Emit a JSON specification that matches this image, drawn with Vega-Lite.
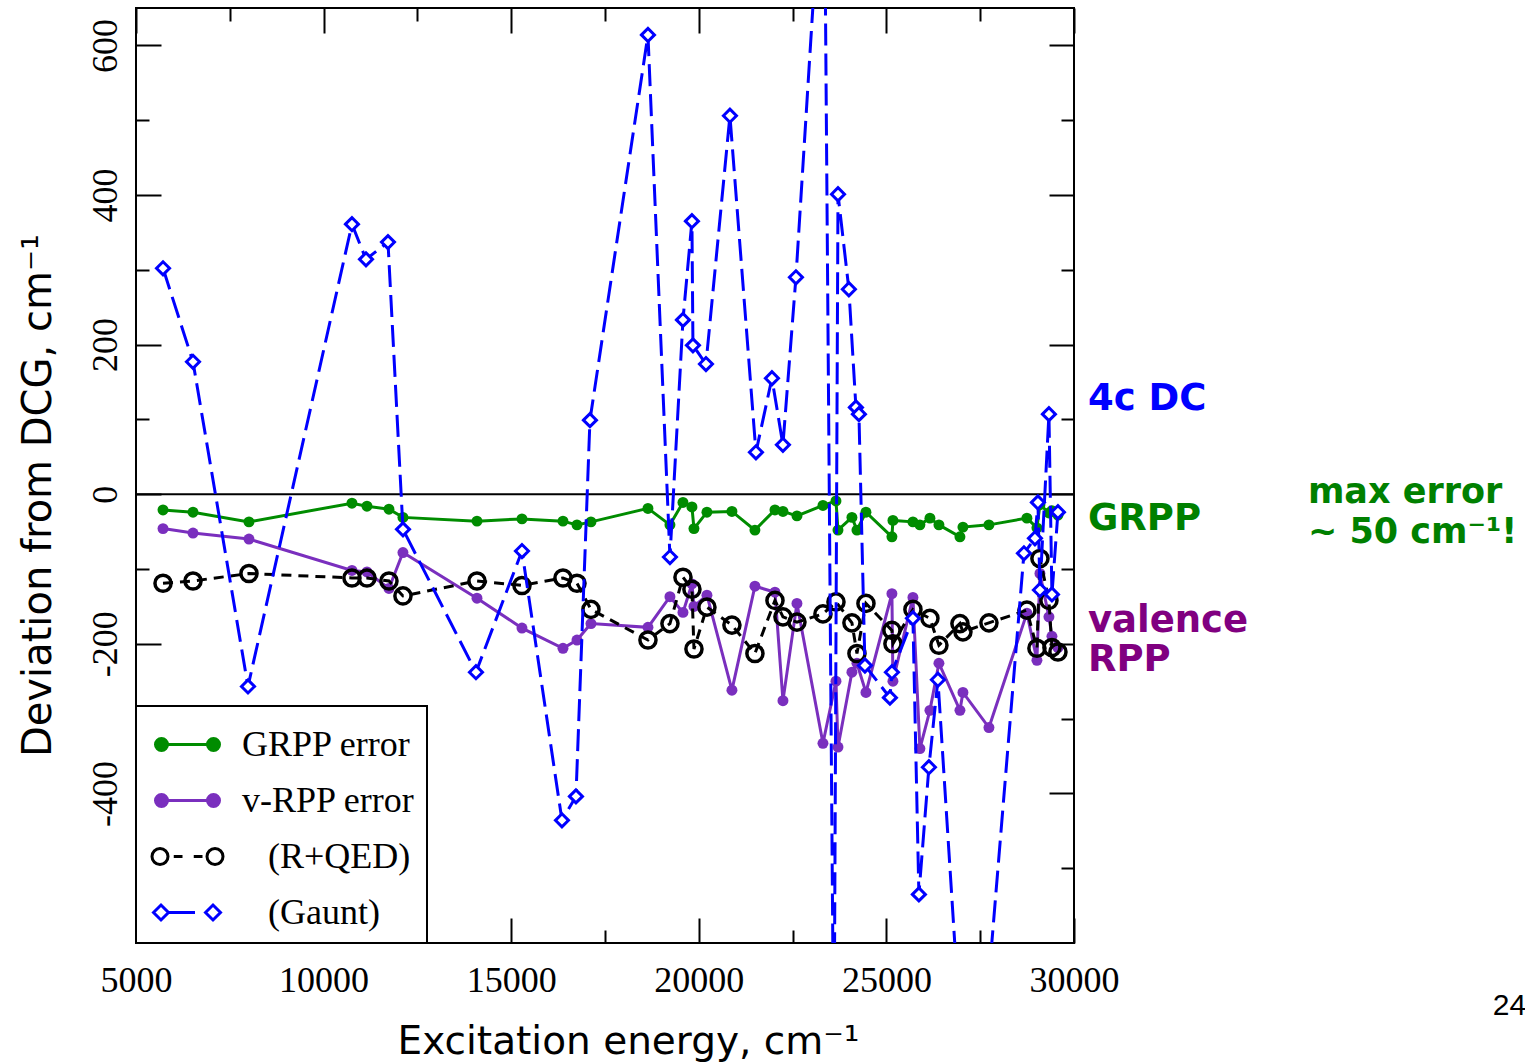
{
  "$schema": "https://vega.github.io/schema/vega-lite/v6.json",
  "width": 938,
  "height": 935,
  "autosize": "none",
  "padding": {"left": 136, "top": 8, "right": 451, "bottom": 121},
  "background": "white",
  "config": {"view": {"stroke": "black", "strokeWidth": 2}, "axis": {"grid": false, "domain": false},
    "legend": {"orient": "bottom-left", "offset": 0, "title": null, "padding": 12, "rowPadding": 11, "symbolSize": 2500, "symbolStrokeWidth": 3, "symbolOffset": 13, "labelOffset": 28,
      "labelFont": "Liberation Serif", "labelFontSize": 36, "labelColor": "black", "labelLimit": 0, "strokeColor": "black", "fillColor": "white", "cornerRadius": 0, "strokeWidth": 2}},
  "datasets": {
    "pts": [
      {"s":"GRPP error","x":5720,"y":-21},{"s":"GRPP error","x":6519,"y":-24},{"s":"GRPP error","x":8011,"y":-37},{"s":"GRPP error","x":10756,"y":-12},{"s":"GRPP error","x":11156,"y":-16},{"s":"GRPP error","x":11742,"y":-20},{"s":"GRPP error","x":12115,"y":-31},{"s":"GRPP error","x":14088,"y":-36},{"s":"GRPP error","x":15287,"y":-33},{"s":"GRPP error","x":16380,"y":-36},{"s":"GRPP error","x":16753,"y":-41},{"s":"GRPP error","x":17126,"y":-37},{"s":"GRPP error","x":18645,"y":-19},{"s":"GRPP error","x":19231,"y":-41},{"s":"GRPP error","x":19578,"y":-11},{"s":"GRPP error","x":19817,"y":-17},{"s":"GRPP error","x":19871,"y":-46},{"s":"GRPP error","x":20217,"y":-24},{"s":"GRPP error","x":20883,"y":-23},{"s":"GRPP error","x":21496,"y":-48},{"s":"GRPP error","x":22030,"y":-21},{"s":"GRPP error","x":22243,"y":-23},{"s":"GRPP error","x":22616,"y":-29},{"s":"GRPP error","x":23309,"y":-15},{"s":"GRPP error","x":23656,"y":-9},{"s":"GRPP error","x":23710,"y":-48},{"s":"GRPP error","x":24081,"y":-31},{"s":"GRPP error","x":24215,"y":-48},{"s":"GRPP error","x":24455,"y":-24},{"s":"GRPP error","x":25147,"y":-57},{"s":"GRPP error","x":25174,"y":-35},{"s":"GRPP error","x":25707,"y":-37},{"s":"GRPP error","x":25893,"y":-41},{"s":"GRPP error","x":26160,"y":-32},{"s":"GRPP error","x":26400,"y":-41},{"s":"GRPP error","x":26960,"y":-57},{"s":"GRPP error","x":27040,"y":-44},{"s":"GRPP error","x":27733,"y":-41},{"s":"GRPP error","x":28745,"y":-32},{"s":"GRPP error","x":29012,"y":-45},{"s":"GRPP error","x":29092,"y":-14},{"s":"GRPP error","x":29332,"y":-25},{"s":"GRPP error","x":29412,"y":-22},{"s":"GRPP error","x":29572,"y":-28},
      {"s":"v-RPP error","x":5720,"y":-46},{"s":"v-RPP error","x":6519,"y":-52},{"s":"v-RPP error","x":8011,"y":-60},{"s":"v-RPP error","x":10756,"y":-102},{"s":"v-RPP error","x":11156,"y":-104},{"s":"v-RPP error","x":11742,"y":-126},{"s":"v-RPP error","x":12115,"y":-78},{"s":"v-RPP error","x":14088,"y":-139},{"s":"v-RPP error","x":15287,"y":-179},{"s":"v-RPP error","x":16380,"y":-206},{"s":"v-RPP error","x":16753,"y":-195},{"s":"v-RPP error","x":17126,"y":-173},{"s":"v-RPP error","x":18645,"y":-178},{"s":"v-RPP error","x":19231,"y":-137},{"s":"v-RPP error","x":19578,"y":-158},{"s":"v-RPP error","x":19817,"y":-120},{"s":"v-RPP error","x":19871,"y":-150},{"s":"v-RPP error","x":20217,"y":-135},{"s":"v-RPP error","x":20883,"y":-262},{"s":"v-RPP error","x":21496,"y":-123},{"s":"v-RPP error","x":22030,"y":-131},{"s":"v-RPP error","x":22243,"y":-276},{"s":"v-RPP error","x":22616,"y":-146},{"s":"v-RPP error","x":23309,"y":-333},{"s":"v-RPP error","x":23656,"y":-250},{"s":"v-RPP error","x":23710,"y":-338},{"s":"v-RPP error","x":24081,"y":-238},{"s":"v-RPP error","x":24215,"y":-226},{"s":"v-RPP error","x":24455,"y":-265},{"s":"v-RPP error","x":25147,"y":-133},{"s":"v-RPP error","x":25174,"y":-250},{"s":"v-RPP error","x":25707,"y":-138},{"s":"v-RPP error","x":25893,"y":-340},{"s":"v-RPP error","x":26160,"y":-289},{"s":"v-RPP error","x":26400,"y":-226},{"s":"v-RPP error","x":26960,"y":-289},{"s":"v-RPP error","x":27040,"y":-265},{"s":"v-RPP error","x":27733,"y":-312},{"s":"v-RPP error","x":28745,"y":-159},{"s":"v-RPP error","x":29012,"y":-222},{"s":"v-RPP error","x":29092,"y":-106},{"s":"v-RPP error","x":29332,"y":-164},{"s":"v-RPP error","x":29412,"y":-190},{"s":"v-RPP error","x":29572,"y":-205},
      {"s":"(R+QED)","x":5720,"y":-119},{"s":"(R+QED)","x":6519,"y":-116},{"s":"(R+QED)","x":8011,"y":-106},{"s":"(R+QED)","x":10756,"y":-112},{"s":"(R+QED)","x":11156,"y":-112},{"s":"(R+QED)","x":11742,"y":-116},{"s":"(R+QED)","x":12115,"y":-136},{"s":"(R+QED)","x":14088,"y":-116},{"s":"(R+QED)","x":15287,"y":-122},{"s":"(R+QED)","x":16380,"y":-112},{"s":"(R+QED)","x":16753,"y":-119},{"s":"(R+QED)","x":17126,"y":-154},{"s":"(R+QED)","x":18645,"y":-195},{"s":"(R+QED)","x":19231,"y":-173},{"s":"(R+QED)","x":19578,"y":-111},{"s":"(R+QED)","x":19817,"y":-127},{"s":"(R+QED)","x":19871,"y":-207},{"s":"(R+QED)","x":20217,"y":-151},{"s":"(R+QED)","x":20883,"y":-175},{"s":"(R+QED)","x":21496,"y":-213},{"s":"(R+QED)","x":22030,"y":-142},{"s":"(R+QED)","x":22243,"y":-164},{"s":"(R+QED)","x":22616,"y":-171},{"s":"(R+QED)","x":23309,"y":-160},{"s":"(R+QED)","x":23656,"y":-144},{"s":"(R+QED)","x":24081,"y":-172},{"s":"(R+QED)","x":24215,"y":-213},{"s":"(R+QED)","x":24455,"y":-146},{"s":"(R+QED)","x":25147,"y":-182},{"s":"(R+QED)","x":25174,"y":-200},{"s":"(R+QED)","x":25707,"y":-154},{"s":"(R+QED)","x":26160,"y":-166},{"s":"(R+QED)","x":26400,"y":-202},{"s":"(R+QED)","x":26960,"y":-173},{"s":"(R+QED)","x":27040,"y":-184},{"s":"(R+QED)","x":27733,"y":-172},{"s":"(R+QED)","x":28745,"y":-155},{"s":"(R+QED)","x":29012,"y":-206},{"s":"(R+QED)","x":29092,"y":-86},{"s":"(R+QED)","x":29332,"y":-142},{"s":"(R+QED)","x":29412,"y":-205},{"s":"(R+QED)","x":29572,"y":-211},
      {"s":"(Gaunt)","x":5720,"y":302},{"s":"(Gaunt)","x":6519,"y":177},{"s":"(Gaunt)","x":7985,"y":-257},{"s":"(Gaunt)","x":10756,"y":361},{"s":"(Gaunt)","x":11130,"y":314},{"s":"(Gaunt)","x":11716,"y":337},{"s":"(Gaunt)","x":12116,"y":-47},{"s":"(Gaunt)","x":14061,"y":-238},{"s":"(Gaunt)","x":15287,"y":-76},{"s":"(Gaunt)","x":16353,"y":-436},{"s":"(Gaunt)","x":16726,"y":-404},{"s":"(Gaunt)","x":17099,"y":99},{"s":"(Gaunt)","x":18645,"y":614},{"s":"(Gaunt)","x":19231,"y":-84},{"s":"(Gaunt)","x":19578,"y":233},{"s":"(Gaunt)","x":19817,"y":365},{"s":"(Gaunt)","x":19844,"y":199},{"s":"(Gaunt)","x":20191,"y":174},{"s":"(Gaunt)","x":20830,"y":506},{"s":"(Gaunt)","x":21523,"y":56},{"s":"(Gaunt)","x":21949,"y":155},{"s":"(Gaunt)","x":22242,"y":66},{"s":"(Gaunt)","x":22589,"y":290},{"s":"(Gaunt)","x":23339,"y":890},{"s":"(Gaunt)","x":23602,"y":-795},{"s":"(Gaunt)","x":23710,"y":401},{"s":"(Gaunt)","x":24000,"y":274},{"s":"(Gaunt)","x":24188,"y":116},{"s":"(Gaunt)","x":24268,"y":107},{"s":"(Gaunt)","x":24428,"y":-229},{"s":"(Gaunt)","x":25094,"y":-272},{"s":"(Gaunt)","x":25147,"y":-238},{"s":"(Gaunt)","x":25707,"y":-166},{"s":"(Gaunt)","x":25866,"y":-535},{"s":"(Gaunt)","x":26133,"y":-365},{"s":"(Gaunt)","x":26373,"y":-248},{"s":"(Gaunt)","x":27253,"y":-938},{"s":"(Gaunt)","x":28666,"y":-79},{"s":"(Gaunt)","x":28959,"y":-59},{"s":"(Gaunt)","x":29039,"y":-11},{"s":"(Gaunt)","x":29092,"y":-128},{"s":"(Gaunt)","x":29332,"y":107},{"s":"(Gaunt)","x":29412,"y":-134},{"s":"(Gaunt)","x":29572,"y":-24}
    ],
    "notes": [
      {"g":"4c","t":"4c DC","x":30371,"y":127},
      {"g":"grpp","t":"GRPP","x":30371,"y":-33},
      {"g":"vrpp","t":"valence","x":30371,"y":-169},
      {"g":"vrpp","t":"RPP","x":30371,"y":-222}
    ],
    "side": [
      {"t":"max error","x":36234,"y":3},
      {"t":"~ 50 cm⁻¹!","x":36234,"y":-51}
    ],
    "page": [{"t":"24","x":41164,"y":-684}]
  },
  "resolve": {"axis": {"x": "independent", "y": "independent"}},
  "layer": [
    {
      "data": {"values": [{}]},
      "mark": {"type": "rule", "color": "black", "strokeWidth": 2},
      "encoding": {"y": {"datum": 0, "type": "quantitative", "scale": {"domain": [-600, 650], "nice": false, "zero": false}, "axis": null}}
    },
    {
      "data": {"name": "pts"},
      "transform": [{"filter": "datum.s === 'GRPP error'"}],
      "mark": {"type": "line", "color": "#008c00", "strokeWidth": 3},
      "encoding": {
        "x": {"field": "x", "type": "quantitative", "scale": {"domain": [5000, 30000], "nice": false, "zero": false},
          "axis": {"orient": "bottom", "values": [5000,7500,10000,12500,15000,17500,20000,22500,25000,27500,30000],
            "labelExpr": "datum.value % 5000 === 0 ? '' + datum.value : ''",
            "tickSize": {"condition": {"test": "datum.value % 5000 === 0", "value": -25}, "value": -13},
            "tickColor": "black", "tickWidth": 2, "labelFlush": false, "labelOverlap": false, "labelBound": false,
            "labelFont": "Liberation Serif", "labelFontSize": 36, "labelColor": "black", "labelBaseline": "alphabetic", "labelPadding": 73,
            "title": "Excitation energy, cm⁻¹", "titleFont": "DejaVu Sans", "titleFontSize": 39, "titleFontWeight": "normal", "titleColor": "black",
            "titleX": 492, "titleY": 110, "titleAlign": "center", "titleBaseline": "alphabetic"}},
        "y": {"field": "y", "type": "quantitative", "scale": {"domain": [-600, 650], "nice": false, "zero": false},
          "axis": {"orient": "left", "values": [-500,-400,-300,-200,-100,0,100,200,300,400,500,600],
            "labelExpr": "datum.value % 200 === 0 ? '' + datum.value : ''",
            "tickSize": {"condition": {"test": "datum.value % 200 === 0", "value": -25}, "value": -13},
            "tickColor": "black", "tickWidth": 2, "labelFlush": false, "labelOverlap": false, "labelBound": false,
            "labelFont": "Liberation Serif", "labelFontSize": 36, "labelColor": "black", "labelAngle": -90, "labelAlign": "center", "labelBaseline": "alphabetic", "labelPadding": 45,
            "title": "Deviation from DCG, cm⁻¹", "titleFont": "DejaVu Sans", "titleFontSize": 40, "titleFontWeight": "normal", "titleColor": "black",
            "titleAngle": -90, "titleX": -86, "titleY": 487, "titleAlign": "center", "titleBaseline": "alphabetic"}}
      }
    },
    {
      "data": {"name": "pts"},
      "transform": [{"filter": "datum.s === 'GRPP error'"}],
      "mark": {"type": "point", "shape": "circle", "filled": true, "color": "#008c00", "size": 120, "opacity": 1},
      "encoding": {
        "x": {"field": "x", "type": "quantitative", "scale": {"domain": [5000, 30000], "nice": false, "zero": false}, "axis": null},
        "y": {"field": "y", "type": "quantitative", "scale": {"domain": [-600, 650], "nice": false, "zero": false}, "axis": null}
      }
    },
    {
      "data": {"name": "pts"},
      "transform": [{"filter": "datum.s === 'v-RPP error'"}],
      "mark": {"type": "line", "color": "#7a2fbe", "strokeWidth": 3},
      "encoding": {
        "x": {"field": "x", "type": "quantitative", "scale": {"domain": [5000, 30000], "nice": false, "zero": false},
          "axis": {"orient": "top", "values": [5000,7500,10000,12500,15000,17500,20000,22500,25000,27500,30000], "labels": false, "title": null,
            "tickSize": {"condition": {"test": "datum.value % 5000 === 0", "value": -25}, "value": -13}, "tickColor": "black", "tickWidth": 2}},
        "y": {"field": "y", "type": "quantitative", "scale": {"domain": [-600, 650], "nice": false, "zero": false},
          "axis": {"orient": "right", "values": [-500,-400,-300,-200,-100,0,100,200,300,400,500,600], "labels": false, "title": null,
            "tickSize": {"condition": {"test": "datum.value % 200 === 0", "value": -25}, "value": -13}, "tickColor": "black", "tickWidth": 2}}
      }
    },
    {
      "data": {"name": "pts"},
      "transform": [{"filter": "datum.s === 'v-RPP error'"}],
      "mark": {"type": "point", "shape": "circle", "filled": true, "color": "#7a2fbe", "size": 120, "opacity": 1},
      "encoding": {
        "x": {"field": "x", "type": "quantitative", "scale": {"domain": [5000, 30000], "nice": false, "zero": false}, "axis": null},
        "y": {"field": "y", "type": "quantitative", "scale": {"domain": [-600, 650], "nice": false, "zero": false}, "axis": null}
      }
    },
    {
      "data": {"name": "pts"},
      "transform": [{"filter": "datum.s === '(R+QED)'"}],
      "mark": {"type": "line", "color": "black", "strokeWidth": 3, "strokeDash": [10, 7]},
      "encoding": {
        "x": {"field": "x", "type": "quantitative", "scale": {"domain": [5000, 30000], "nice": false, "zero": false}, "axis": null},
        "y": {"field": "y", "type": "quantitative", "scale": {"domain": [-600, 650], "nice": false, "zero": false}, "axis": null}
      }
    },
    {
      "data": {"name": "pts"},
      "transform": [{"filter": "datum.s === '(R+QED)'"}],
      "mark": {"type": "point", "shape": "circle", "filled": false, "color": "black", "size": 260, "strokeWidth": 3.5, "opacity": 1},
      "encoding": {
        "x": {"field": "x", "type": "quantitative", "scale": {"domain": [5000, 30000], "nice": false, "zero": false}, "axis": null},
        "y": {"field": "y", "type": "quantitative", "scale": {"domain": [-600, 650], "nice": false, "zero": false}, "axis": null}
      }
    },
    {
      "data": {"name": "pts"},
      "transform": [{"filter": "datum.s === '(Gaunt)'"}],
      "mark": {"type": "line", "color": "#0000ff", "strokeWidth": 3, "strokeDash": [22, 8], "clip": true},
      "encoding": {
        "x": {"field": "x", "type": "quantitative", "scale": {"domain": [5000, 30000], "nice": false, "zero": false}, "axis": null},
        "y": {"field": "y", "type": "quantitative", "scale": {"domain": [-600, 650], "nice": false, "zero": false}, "axis": null}
      }
    },
    {
      "data": {"name": "pts"},
      "transform": [{"filter": "datum.s === '(Gaunt)'"}],
      "mark": {"type": "point", "shape": "diamond", "filled": true, "fill": "white", "stroke": "#0000ff", "strokeWidth": 3, "size": 170, "opacity": 1, "clip": true},
      "encoding": {
        "x": {"field": "x", "type": "quantitative", "scale": {"domain": [5000, 30000], "nice": false, "zero": false}, "axis": null},
        "y": {"field": "y", "type": "quantitative", "scale": {"domain": [-600, 650], "nice": false, "zero": false}, "axis": null}
      }
    },
    {
      "data": {"name": "pts"},
      "transform": [{"filter": "false"}],
      "mark": {"type": "point", "filled": true, "strokeWidth": 3, "opacity": 1},
      "encoding": {
        "shape": {"field": "s", "type": "nominal", "title": null,
          "scale": {"domain": ["GRPP error", "v-RPP error", "\u2800(R+QED)", "\u2800(Gaunt)"],
            "range": [
              "M-1.04,0L1.04,0M-0.8,0A0.24,0.24,0,1,1,-1.28,0A0.24,0.24,0,1,1,-0.8,0ZM1.28,0A0.24,0.24,0,1,1,0.8,0A0.24,0.24,0,1,1,1.28,0Z",
              "M-1.04,0L1.04,0M-0.8,0A0.24,0.24,0,1,1,-1.28,0A0.24,0.24,0,1,1,-0.8,0ZM1.28,0A0.24,0.24,0,1,1,0.8,0A0.24,0.24,0,1,1,1.28,0Z",
              "M-0.78,0A0.32,0.32,0,1,1,-1.42,0A0.32,0.32,0,1,1,-0.78,0ZM-0.55,0L-0.2,0M0.25,0L0.6,0M1.42,0A0.32,0.32,0,1,1,0.78,0A0.32,0.32,0,1,1,1.42,0Z",
              "M-1.36,0L-1.06,-0.3L-0.76,0L-1.06,0.3ZM-0.76,0L0.3,0M0.72,0L1.02,-0.3L1.32,0L1.02,0.3Z"
            ]}},
        "fill": {"field": "s", "type": "nominal", "title": null,
          "scale": {"domain": ["GRPP error", "v-RPP error", "\u2800(R+QED)", "\u2800(Gaunt)"], "range": ["#008c00", "#7a2fbe", "white", "white"]}},
        "stroke": {"field": "s", "type": "nominal", "title": null,
          "scale": {"domain": ["GRPP error", "v-RPP error", "\u2800(R+QED)", "\u2800(Gaunt)"], "range": ["#008c00", "#7a2fbe", "black", "#0000ff"]}}
      }
    },
    {
      "data": {"name": "notes"},
      "mark": {"type": "text", "font": "DejaVu Sans", "fontWeight": "bold", "fontSize": 37, "align": "left", "baseline": "middle"},
      "encoding": {
        "x": {"field": "x", "type": "quantitative", "scale": {"domain": [5000, 30000], "nice": false, "zero": false}, "axis": null},
        "y": {"field": "y", "type": "quantitative", "scale": {"domain": [-600, 650], "nice": false, "zero": false}, "axis": null},
        "text": {"field": "t"},
        "color": {"field": "g", "type": "nominal", "scale": {"domain": ["4c", "grpp", "vrpp"], "range": ["#0000ff", "#008000", "#800080"]}, "legend": null}
      }
    },
    {
      "data": {"name": "side"},
      "mark": {"type": "text", "font": "DejaVu Sans", "fontWeight": "bold", "fontSize": 35, "align": "left", "baseline": "middle", "color": "#008000"},
      "encoding": {
        "x": {"field": "x", "type": "quantitative", "scale": {"domain": [5000, 30000], "nice": false, "zero": false}, "axis": null},
        "y": {"field": "y", "type": "quantitative", "scale": {"domain": [-600, 650], "nice": false, "zero": false}, "axis": null},
        "text": {"field": "t"}
      }
    },
    {
      "data": {"name": "page"},
      "mark": {"type": "text", "font": "Liberation Sans", "fontSize": 30, "align": "left", "baseline": "middle", "color": "black"},
      "encoding": {
        "x": {"field": "x", "type": "quantitative", "scale": {"domain": [5000, 30000], "nice": false, "zero": false}, "axis": null},
        "y": {"field": "y", "type": "quantitative", "scale": {"domain": [-600, 650], "nice": false, "zero": false}, "axis": null},
        "text": {"field": "t"}
      }
    }
  ]
}
